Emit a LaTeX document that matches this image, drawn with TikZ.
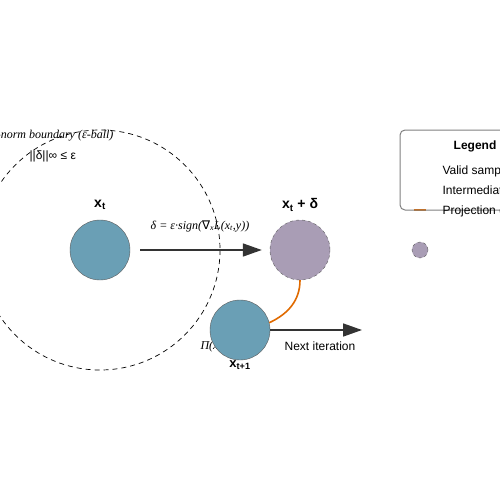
\documentclass[tikz,border=0pt]{standalone}
\usepackage{fontspec}
\setmainfont{Liberation Sans}
\newfontfamily\lserif{Liberation Serif}
\newfontfamily\dvsans{DejaVu Sans}
\usetikzlibrary{arrows.meta}
\definecolor{sampleblue}{HTML}{6A9FB5}
\definecolor{midlilac}{HTML}{A99DB5}
\definecolor{projorange}{HTML}{E06A00}
\definecolor{darkline}{HTML}{333333}
\newcommand{\xt}{x\textsubscript{t}}
\begin{document}
\begin{tikzpicture}[x=1pt,y=-1pt,
  >={Triangle[length=19pt,width=13pt]},
  sample/.style={circle,draw=darkline!80,fill=sampleblue,minimum size=60pt,inner sep=0pt},
  midpt/.style={circle,draw=darkline!80,dashed,fill=midlilac,minimum size=60pt,inner sep=0pt},
  stepline/.style={->,draw=darkline,line width=1.6pt},
  projline/.style={draw=projorange,line width=1.6pt},
  emph/.style={font=\lserif\itshape\fontsize{12}{14}\selectfont},
  plain/.style={font=\fontsize{12}{14}\selectfont},
  title/.style={font=\bfseries\fontsize{14}{16}\selectfont}]
\useasboundingbox (0,0) rectangle (500,500);
\clip (0,0) rectangle (500,500);
% epsilon ball
\coordinate (c) at (100,250);
\draw[dashed,dash pattern=on 5pt off 4pt,line width=.7pt] (c) circle (120);
\node[emph,anchor=east] (ballname) at (117,135) {{\dvsans ℓ}∞-norm boundary (ε-ball)};
\node[plain,anchor=west] (ballrule) at (26,156) {||δ||∞ ≤ ε};
% samples
\node[sample] (xt) at (100,250) {};
\node[title] (lxt) at (100,205) {\xt};
\node[midpt] (xd) at (300,250) {};
\node[title] (lxd) at (300,205) {\xt{} + δ};
\draw[stepline,shorten <=10pt,shorten >=8pt] (xt) -- (xd);
\node[emph] (step) at (200,226) {δ = ε·sign({\dvsans ∇}\textsubscript{x}L(\xt,y))};
% projection
\node[emph,anchor=west] (lproj) at (197,347) {Π(\xt+δ)};
\node[sample] (xn) at (240,330) {};
\node[title,font=\bfseries\fontsize{13}{15}\selectfont] (lxn) at (240,365) {x\textsubscript{t+1}};
\draw[projline] (xd.south) to[out=-90,in=25] (xn.14);
\coordinate (nxt) at (362,330);
\draw[stepline] (xn) -- (nxt);
\node[plain] (lnext) at (320,346) {Next iteration};
% legend
\draw[projline] (414,210) -- (426,210);
\draw[rounded corners=5pt,draw=gray,line width=1pt] (400,130) rectangle (530,210);
\node[font=\bfseries\fontsize{12}{14}\selectfont] (legend) at (475,146) {Legend};
\foreach \y/\txt in {171/Valid sample (\xt),191/Intermediate (\xt+δ),211/Projection (Π)}
{
    \node[plain,anchor=west] at (439,\y) {\txt};
}
\node[circle,draw=darkline!80,dashed,fill=midlilac,minimum size=16pt,inner sep=0pt] (keymid) at (420,250) {};
\end{tikzpicture}
\end{document}
